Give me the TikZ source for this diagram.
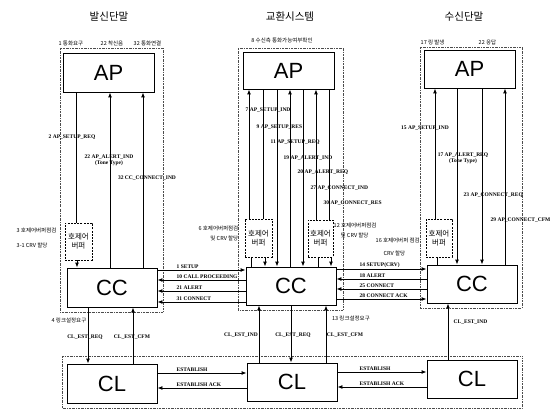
\documentclass[tikz,border=0pt]{standalone}
\usepackage{fontspec}
\setmainfont{Liberation Serif}
\newfontfamily\kr{Noto Sans CJK KR}
\newfontfamily\arl{Liberation Sans}
\usetikzlibrary{arrows.meta}
\begin{document}
\begin{tikzpicture}[x=1pt,y=-1pt,
 box/.style={draw, line width=0.9pt, inner sep=0pt, font=\arl\fontsize{22}{22}\selectfont},
 buf/.style={draw, dash pattern=on 2pt off 1.2pt, line width=0.6pt, fill=white, inner sep=0pt, align=center, font=\kr\fontsize{7.5}{9}\selectfont},
 grp/.style={draw=black!70, dash pattern=on 2pt off 1pt on 0.5pt off 1pt, line width=0.5pt},
 lab/.style={font=\bfseries\fontsize{5.5}{6}\selectfont, inner sep=0.5pt},
 klab/.style={font=\kr\fontsize{5.5}{6}\selectfont, inner sep=0.5pt},
 ttl/.style={font=\kr\fontsize{10.5}{12}\selectfont},
 arr/.style={-{Latex[length=5pt,width=4pt]}, line width=0.9pt},
 ln/.style={line width=0.9pt}]
\useasboundingbox (0,0) rectangle (550,412);
% group frames
\draw[grp] (60,48) rectangle (163,312);
\draw[grp] (238,48) rectangle (343,310);
\draw[grp] (420,47) rectangle (522,308);
\draw[grp] (62,356) rectangle (522,408);
% titles
\node[ttl] (t1) at (109,17) {발신단말};
\node[ttl] (t2) at (290,17) {교환시스템};
\node[ttl] (t3) at (464,17) {수신단말};
% boxes
\node[box, minimum width=91pt, minimum height=39pt] (apL) at (108.5,72.5) {AP};
\node[box, minimum width=91pt, minimum height=37pt] (apM) at (288.5,70.5) {AP};
\node[box, minimum width=91pt, minimum height=38pt] (apR) at (469.5,69) {AP};
\node[box, minimum width=90pt, minimum height=39pt] (ccL) at (112,287.5) {CC};
\node[box, minimum width=90pt, minimum height=38pt] (ccM) at (291,286) {CC};
\node[box, minimum width=90pt, minimum height=38pt] (ccR) at (472,284) {CC};
\node[box, minimum width=90pt, minimum height=39pt] (clL) at (112,383.5) {CL};
\node[box, minimum width=90pt, minimum height=38pt] (clM) at (292,382) {CL};
\node[box, minimum width=90pt, minimum height=38pt] (clR) at (472,379) {CL};
% buffers
\node[buf, minimum width=27pt, minimum height=37pt] (bufL) at (78.5,241.5) {호제어\\버퍼};
\node[buf, minimum width=27pt, minimum height=38pt] (bufMa) at (258.5,238) {호제어\\버퍼};
\node[buf, minimum width=25pt, minimum height=37pt] (bufMb) at (320.5,238.5) {호제어\\버퍼};
\node[buf, minimum width=26pt, minimum height=38pt] (bufR) at (439,238) {호제어\\버퍼};
% top labels
\node[klab, anchor=west] (l1) at (58,43) {1 통화요구};
\node[klab, anchor=west] (l2) at (100,43) {22 착신음};
\node[klab, anchor=west] (l3) at (133,43) {32 통화연결};
\node[klab] (l4) at (282,40) {8 수신측 통화가능여부확인};
\node[klab, anchor=west] (l5) at (420,42) {17 링 발생};
\node[klab, anchor=west] (l6) at (478,42) {22 응답};
% left verticals
\draw[ln] (apL.south -| 76,0) -- (bufL.north -| 76,0);
\draw[arr] (bufL.south -| 77,0) -- (ccL.north -| 77,0);
\draw[arr] (ccL.north -| 110,0) -- (apL.south -| 110,0);
\draw[arr] (ccL.north -| 143,0) -- (apL.south -| 143,0);
\node[lab] (a2) at (72,137) {2 AP\_SETUP\_REQ};
\node[lab, align=center] (a22) at (109,160) {22 AP\_ALERT\_IND\\(Tone Type)};
\node[lab] (a32) at (147,178) {32 CC\_CONNECT\_IND};
\node[klab, anchor=west] (k3) at (16,230) {3 호제어버퍼점검};
\node[klab, anchor=west] (k31) at (16,245) {3-1 CRV 할당};
% middle verticals
\draw[arr] (bufMa.north -| 249,0) -- (apM.south -| 249,0);
\draw[ln] (ccM.north -| 251,0) -- (bufMa.south -| 251,0);
\draw[ln] (apM.south -| 263,0) -- (bufMa.north -| 263,0);
\draw[arr] (bufMa.south -| 265,0) -- (ccM.north -| 265,0);
\draw[arr] (apM.south -| 277,0) -- (ccM.north -| 277,0);
\draw[arr] (ccM.north -| 290,0) -- (apM.south -| 290,0);
\draw[arr] (apM.south -| 303,0) -- (ccM.north -| 303,0);
\draw[arr] (bufMb.north -| 316,0) -- (apM.south -| 316,0);
\draw[ln] (ccM.north -| 318,0) -- (bufMb.south -| 318,0);
\draw[ln] (apM.south -| 329,0) -- (bufMb.north -| 329,0);
\draw[arr] (bufMb.south -| 331,0) -- (ccM.north -| 331,0);
\node[lab, anchor=west] (m7) at (245,110) {7 AP\_SETUP\_IND};
\node[lab, anchor=west] (m9) at (256,127) {9 AP\_SETUP\_RES};
\node[lab, anchor=west] (m11) at (270,142) {11 AP\_SETUP\_REQ};
\node[lab, anchor=west] (m19) at (283,158) {19 AP\_ALERT\_IND};
\node[lab, anchor=west] (m20) at (297,172) {20 AP\_ALERT\_REQ};
\node[lab, anchor=west] (m27) at (310,188) {27 AP\_CONNECT\_IND};
\node[lab, anchor=west] (m30) at (323,203) {30 AP\_CONNECT\_RES};
\node[klab, anchor=east] (k6) at (239,228) {6 호제어버퍼점검};
\node[klab, anchor=east] (k6b) at (239,238) {및 CRV 할당};
\node[klab, anchor=west] (k12) at (333,225) {12 호제어버퍼점검};
\node[klab, anchor=west] (k12b) at (340,235) {및 CRV 할당};
% right verticals
\draw[arr] (bufR.north -| 435,0) -- (apR.south -| 435,0);
\draw[ln] (bufR.south -| 437,0) -- (ccR.north -| 437,0);
\draw[arr] (apR.south -| 457,0) -- (ccR.north -| 457,0);
\draw[arr] (apR.south -| 482,0) -- (ccR.north -| 482,0);
\draw[arr] (ccR.north -| 505,0) -- (apR.south -| 505,0);
\node[lab] (r15) at (425,128) {15 AP\_SETUP\_IND};
\node[lab, align=center] (r17) at (463,158) {17 AP\_ALERT\_REQ\\(Tone Type)};
\node[lab, anchor=west] (r23) at (463,195) {23 AP\_CONNECT\_REQ};
\node[lab, anchor=west] (r29) at (490,220) {29 AP\_CONNECT\_CFM};
\node[klab, anchor=west] (k16) at (375,240) {16 호제어버퍼 점검};
\node[klab, anchor=west] (k16b) at (383,253) {CRV 할당};
% CC horizontal messages left
\draw[arr] (ccL.east |- 0,270) -- (ccM.west |- 0,270);
\draw[arr] (ccM.west |- 0,280) -- (ccL.east |- 0,280);
\draw[arr] (ccM.west |- 0,291) -- (ccL.east |- 0,291);
\draw[arr] (ccM.west |- 0,302) -- (ccL.east |- 0,302);
\node[lab, anchor=south west] (h1) at (176,269.5) {1 SETUP};
\node[lab, anchor=south west] (h10) at (176,279.5) {10 CALL PROCEEDING};
\node[lab, anchor=south west] (h21) at (176,290.5) {21 ALERT};
\node[lab, anchor=south west] (h31) at (176,301.5) {31 CONNECT};
% CC horizontal messages right
\draw[arr] (ccM.east |- 0,269) -- (ccR.west |- 0,269);
\draw[arr] (ccR.west |- 0,279) -- (ccM.east |- 0,279);
\draw[arr] (ccR.west |- 0,289) -- (ccM.east |- 0,289);
\draw[arr] (ccM.east |- 0,299) -- (ccR.west |- 0,299);
\node[lab, anchor=south west] (h14) at (359,268.5) {14 SETUP(CRV)};
\node[lab, anchor=south west] (h18) at (359,278.5) {18 ALERT};
\node[lab, anchor=south west] (h25) at (359,288.5) {25 CONNECT};
\node[lab, anchor=south west] (h28) at (359,298.5) {28 CONNECT ACK};
% CC - CL
\draw[arr] (ccL.south -| 88,0) -- (clL.north -| 88,0);
\draw[arr] (clL.north -| 133,0) -- (ccL.south -| 133,0);
\node[klab] (k4) at (69,320) {4 링크설정요구};
\node[lab] (c1) at (85,337) {CL\_EST\_REQ};
\node[lab] (c2) at (132,337) {CL\_EST\_CFM};
\draw[arr] (clM.north -| 259,0) -- (ccM.south -| 259,0);
\draw[arr] (ccM.south -| 291,0) -- (clM.north -| 291,0);
\draw[arr] (clM.north -| 326,0) -- (ccM.south -| 326,0);
\node[lab] (c3) at (241,335) {CL\_EST\_IND};
\node[lab] (c4) at (293,335) {CL\_EST\_REQ};
\node[lab] (c5) at (345,335) {CL\_EST\_CFM};
\node[klab] (k13) at (351,318) {13 링크설정요구};
\draw[arr] (clR.north -| 448,0) -- (ccR.south -| 448,0);
\node[lab, anchor=west] (c6) at (453,322) {CL\_EST\_IND};
% CL horizontals
\draw[arr] (clL.east |- 0,373) -- (clM.west |- 0,373);
\draw[arr] (clM.west |- 0,388) -- (clL.east |- 0,388);
\node[lab, anchor=south west] (e1) at (176,372.5) {ESTABLISH};
\node[lab, anchor=south west] (e2) at (176,387.5) {ESTABLISH ACK};
\draw[arr] (clM.east |- 0,372) -- (clR.west |- 0,372);
\draw[arr] (clR.west |- 0,387) -- (clM.east |- 0,387);
\node[lab, anchor=south west] (e3) at (359,371.5) {ESTABLISH};
\node[lab, anchor=south west] (e4) at (359,386.5) {ESTABLISH ACK};
\end{tikzpicture}
\end{document}
